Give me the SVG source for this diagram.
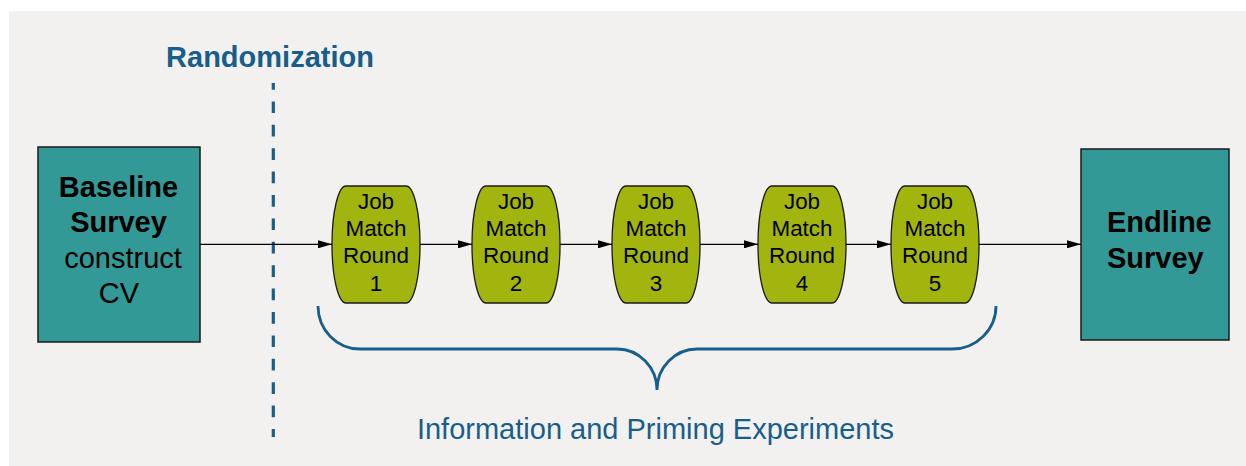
<svg xmlns="http://www.w3.org/2000/svg" width="1246" height="466" viewBox="0 0 1246 466">
<defs>
<marker id="ah" markerWidth="14" markerHeight="8" refX="14" refY="4" orient="auto" markerUnits="userSpaceOnUse">
<path d="M0,0 L14,4 L0,8 z" fill="#000"/>
</marker>
<style>
.box{fill:#339996;stroke:#1a1a1a;stroke-width:1.5}
.pill{fill:#a2b50e;stroke:#1a1a1a;stroke-width:1.3}
.bt{font-family:"Liberation Sans",Arial,sans-serif;font-size:29px;fill:#000}
.b{font-weight:bold}
.pt{font-family:"Liberation Sans",Arial,sans-serif;font-size:22.4px;fill:#000;text-anchor:middle}
.conn{stroke:#000;stroke-width:1.3;fill:none;marker-end:url(#ah)}
.blue{fill:#185e8b;font-family:"Liberation Sans",Arial,sans-serif}
</style>
</defs>
<rect x="0" y="0" width="1246" height="466" fill="#fff"/>
<rect x="9" y="11" width="1237" height="455" fill="#f2f1f0"/>

<g id="randomization">
<text class="blue b" x="270" y="66.5" font-size="29" text-anchor="middle" font-weight="bold">Randomization</text>
<line x1="273.3" y1="83" x2="273.3" y2="437" stroke="#185e8b" stroke-width="3.2" stroke-dasharray="11.7 11.7" stroke-dashoffset="5"/>
</g>

<g id="baseline">
<rect class="box" x="38" y="147" width="162" height="195"/>
<text class="bt b" x="118.5" y="196.5" text-anchor="middle">Baseline</text>
<text class="bt b" x="118.5" y="231.5" text-anchor="middle">Survey</text>
<text class="bt" x="123" y="267.5" text-anchor="middle">construct</text>
<text class="bt" x="119" y="302.5" text-anchor="middle">CV</text>
</g>

<g id="round1">
<rect class="pill" x="332" y="186" width="88" height="117" rx="14" ry="58"/>
<text class="pt" x="376" y="208.5">Job</text>
<text class="pt" x="376" y="236">Match</text>
<text class="pt" x="376" y="263.3">Round</text>
<text class="pt" x="376" y="290.5">1</text>
</g>
<g id="round2">
<rect class="pill" x="472" y="186" width="88" height="117" rx="14" ry="58"/>
<text class="pt" x="516" y="208.5">Job</text>
<text class="pt" x="516" y="236">Match</text>
<text class="pt" x="516" y="263.3">Round</text>
<text class="pt" x="516" y="290.5">2</text>
</g>
<g id="round3">
<rect class="pill" x="612" y="186" width="88" height="117" rx="14" ry="58"/>
<text class="pt" x="656" y="208.5">Job</text>
<text class="pt" x="656" y="236">Match</text>
<text class="pt" x="656" y="263.3">Round</text>
<text class="pt" x="656" y="290.5">3</text>
</g>
<g id="round4">
<rect class="pill" x="758" y="186" width="88" height="117" rx="14" ry="58"/>
<text class="pt" x="802" y="208.5">Job</text>
<text class="pt" x="802" y="236">Match</text>
<text class="pt" x="802" y="263.3">Round</text>
<text class="pt" x="802" y="290.5">4</text>
</g>
<g id="round5">
<rect class="pill" x="891" y="186" width="88" height="117" rx="14" ry="58"/>
<text class="pt" x="935" y="208.5">Job</text>
<text class="pt" x="935" y="236">Match</text>
<text class="pt" x="935" y="263.3">Round</text>
<text class="pt" x="935" y="290.5">5</text>
</g>

<g id="endline">
<rect class="box" x="1081" y="149" width="148" height="191"/>
<text class="bt b" x="1107" y="232">Endline</text>
<text class="bt b" x="1107" y="267.5">Survey</text>
</g>

<g id="connectors">
<line class="conn" x1="200" y1="244.3" x2="332" y2="244.3"/>
<line class="conn" x1="420" y1="244.3" x2="472" y2="244.3"/>
<line class="conn" x1="560" y1="244.3" x2="612" y2="244.3"/>
<line class="conn" x1="700" y1="244.3" x2="758" y2="244.3"/>
<line class="conn" x1="846" y1="244.3" x2="891" y2="244.3"/>
<line class="conn" x1="979" y1="244.3" x2="1081" y2="244.3"/>
</g>

<g id="brace">
<path d="M318,306 A42 43 0 0 0 360 349 H617 A40 41 0 0 1 657 390 A40 41 0 0 1 697 349 H952 A44 43 0 0 0 996 306" fill="none" stroke="#185e8b" stroke-width="2.8"/>
<text class="blue" x="655.5" y="438.5" font-size="29" text-anchor="middle">Information and Priming Experiments</text>
</g>
</svg>
